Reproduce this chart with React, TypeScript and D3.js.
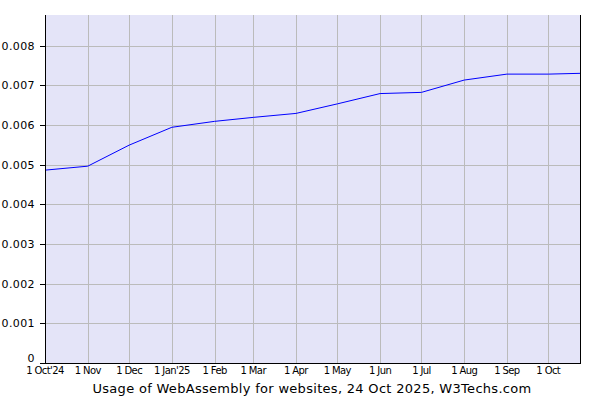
import React from "react";
import * as d3 from "d3";

const dates: string[] = [
  "2024-10-01", "2024-11-01", "2024-12-01", "2025-01-01", "2025-02-01", "2025-03-01",
  "2025-04-01", "2025-05-01", "2025-06-01", "2025-07-01", "2025-08-01", "2025-09-01",
  "2025-10-01", "2025-10-24",
];
const values: number[] = [
  0.00486, 0.00496, 0.00549, 0.00594, 0.00609, 0.00619,
  0.00629, 0.00653, 0.00679, 0.00682, 0.00713, 0.00728,
  0.00728, 0.00730,
];
const xTickDates: string[] = [
  "2024-10-01", "2024-11-01", "2024-12-01", "2025-01-01", "2025-02-01", "2025-03-01",
  "2025-04-01", "2025-05-01", "2025-06-01", "2025-07-01", "2025-08-01", "2025-09-01",
  "2025-10-01",
];
const xTickLabels: string[] = [
  "1 Oct'24", "1 Nov", "1 Dec", "1 Jan'25", "1 Feb", "1 Mar", "1 Apr", "1 May",
  "1 Jun", "1 Jul", "1 Aug", "1 Sep", "1 Oct",
];
const yTicks: number[] = [0, 0.001, 0.002, 0.003, 0.004, 0.005, 0.006, 0.007, 0.008];
const yTickLabels: string[] = ["0", "0.001", "0.002", "0.003", "0.004", "0.005", "0.006", "0.007", "0.008"];
const title = "Usage of WebAssembly for websites, 24 Oct 2025, W3Techs.com";

const parse = d3.utcParse("%Y-%m-%d");

export default function App() {
  const W = 600, H = 400;
  const left = 45, right = 580, top = 15, bottom = 363;
  const x = d3.scaleUtc()
    .domain([parse("2024-10-01")!, parse("2025-10-24")!])
    .range([left, right]);
  const y = d3.scaleLinear().domain([0, 0.00877]).range([bottom, top]);
  const line = d3.line<number>()
    .x((_, i) => x(parse(dates[i])!))
    .y((v) => y(v));
  const font = "Verdana, 'DejaVu Sans', sans-serif";
  return (
    <svg width={W} height={H} style={{ position: "absolute", left: 0, top: 0 }} fontFamily={font}>
      <rect x={0} y={0} width={W} height={H} fill="#fff" />
      <rect x={left} y={top} width={right - left} height={bottom - top} fill="#e4e4f8" />
      {yTicks.slice(1).map((t) => (
        <line key={"gy" + t} x1={left} x2={right} y1={Math.round(y(t)) + 0.5} y2={Math.round(y(t)) + 0.5} stroke="#bbbbbb" strokeWidth={1} />
      ))}
      {xTickDates.slice(1).map((d) => (
        <line key={"gx" + d} x1={Math.round(x(parse(d)!)) + 0.5} x2={Math.round(x(parse(d)!)) + 0.5} y1={top} y2={bottom} stroke="#bbbbbb" strokeWidth={1} />
      ))}
      <path d={line(values) || ""} fill="none" stroke="#0000ff" strokeWidth={1} />
      <line x1={left + 0.5} x2={left + 0.5} y1={top} y2={bottom + 0.5} stroke="#000" />
      <line x1={right + 0.5} x2={right + 0.5} y1={top} y2={bottom + 0.5} stroke="#000" />
      <line x1={left} x2={right + 1} y1={bottom + 0.5} y2={bottom + 0.5} stroke="#000" />
      {yTicks.map((t, i) => (
        <g key={"ty" + t}>
          <line x1={left - 5} x2={left} y1={Math.round(y(t)) + 0.5} y2={Math.round(y(t)) + 0.5} stroke="#000" />
          <text x={left - 10} y={t === 0 ? 362 : Math.round(y(t)) + 4} textAnchor="end" fontSize={11} letterSpacing={0.4} fill="#000">{yTickLabels[i]}</text>
        </g>
      ))}
      {xTickDates.map((d, i) => (
        <text key={"tx" + d} x={x(parse(d)!)} y={374} textAnchor="middle" fontSize={10} letterSpacing={-0.6} fill="#000">{xTickLabels[i]}</text>
      ))}
      <text x={312} y={392.5} textAnchor="middle" fontSize={13} letterSpacing={0.3} fill="#000">{title}</text>
    </svg>
  );
}
